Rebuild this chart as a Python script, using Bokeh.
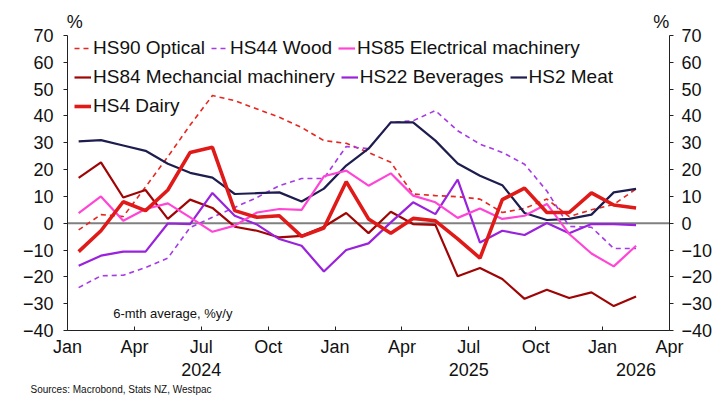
from bokeh.plotting import figure
from bokeh.models import (Range1d, LinearAxis, FixedTicker, Legend, LegendItem,
                          Span, Label, Title, ColumnDataSource)
from bokeh.embed import file_html
from bokeh.resources import INLINE

# ---------------- data ----------------
months = ["2024-01", "2024-02", "2024-03", "2024-04", "2024-05", "2024-06",
          "2024-07", "2024-08", "2024-09", "2024-10", "2024-11", "2024-12",
          "2025-01", "2025-02", "2025-03", "2025-04", "2025-05", "2025-06",
          "2025-07", "2025-08", "2025-09", "2025-10", "2025-11", "2025-12",
          "2026-01", "2026-02"]

hs90_optical = [-2.5, 3.2, 2.5, 13.5, 24.8, 36.6, 47.6, 45.7, 42.6, 39.5, 35.7, 30.8, 29.8,
                26.4, 22.7, 10.9, 10.3, 9.9, 9.0, 4.0, 5.5, 9.0, 2.5, 5.0, 7.0, 12.8]
hs44_wood = [-24.0, -19.6, -19.4, -16.5, -13.0, -1.6, 2.2, 5.9, 9.6, 14.0, 16.7, 16.7, 28.6,
             27.8, 37.6, 38.2, 42.0, 34.5, 29.5, 26.4, 22.0, 12.0, -1.2, -1.5, -9.4, -9.4]
hs85_electrical = [3.8, 10.0, 0.9, 5.3, 7.4, 2.2, -3.2, -0.9, 4.0, 5.3, 5.0, 17.5, 19.6,
                   14.0, 18.6, 10.3, 7.8, 2.0, 5.5, 1.6, 2.8, 7.2, -4.0, -11.3, -16.1, -8.4]
hs84_mechanical = [16.9, 22.7, 9.6, 12.4, 1.6, 8.8, 5.7, -1.3, -2.8, -5.3, -4.7, -1.3, 3.8,
                   -3.7, 4.3, -0.3, -0.6, -19.8, -16.7, -20.8, -28.2, -24.8, -27.9, -25.8, -30.9, -27.3]
hs22_beverages = [-15.9, -12.1, -10.6, -10.6, -0.1, -0.3, 11.3, 2.8, -0.5, -5.9, -8.4, -18.0, -10.0,
                  -7.5, 0.3, 7.8, 3.4, 16.3, -7.2, -2.8, -4.4, 0.1, -3.7, -0.3, -0.3, -0.7]
hs2_meat = [30.5, 31.0, 29.0, 27.0, 22.2, 18.8, 17.0, 10.9, 11.2, 11.5, 8.1, 12.9, 21.5,
            27.8, 37.6, 37.6, 30.8, 22.3, 17.7, 14.2, 3.8, 1.2, 1.6, 3.2, 11.5, 12.8]
hs4_dairy = [-10.6, -2.8, 8.0, 4.7, 12.4, 26.4, 28.3, 4.7, 2.2, 2.8, -4.9, -1.8, 15.5,
             1.6, -3.7, 1.8, 0.9, -5.8, -13.0, 8.8, 13.1, 4.0, 4.0, 11.3, 6.8, 5.7]

x_ticks = [0, 3, 6, 9, 12, 15, 18, 21, 24, 27]
x_tick_labels = ["Jan", "Apr", "Jul", "Oct", "Jan", "Apr", "Jul", "Oct", "Jan", "Apr"]
year_ticks = [6, 18, 25.5]
year_labels = ["2024", "2025", "2026"]
y_ticks = [-40, -30, -20, -10, 0, 10, 20, 30, 40, 50, 60, 70]
unit_ticks = [0.33, 26.63]
unit_labels = ["%", "%"]

# month index (months since Jan 2024), plotted mid-month
x_pos = [(int(m[:4]) - 2024) * 12 + int(m[5:]) - 1 + 0.5 for m in months]

FONT = "Liberation Sans"

src = ColumnDataSource(dict(x=x_pos, opt=hs90_optical, wood=hs44_wood, elec=hs85_electrical,
                            mech=hs84_mechanical, bev=hs22_beverages, meat=hs2_meat,
                            dairy=hs4_dairy))

p = figure(width=715, height=399, x_range=Range1d(0, 27), y_range=Range1d(-40, 70),
           output_backend="svg", toolbar_location=None, x_axis_type=None, y_axis_type=None,
           min_border_left=67, min_border_right=43, min_border_top=35, min_border_bottom=69)
p.outline_line_color = None
p.background_fill_color = "white"
p.border_fill_color = "white"

# zero line
p.add_layout(Span(location=0, dimension="width", line_color="#808080", line_width=2,
                  level="underlay"))

r_opt = p.line("x", "opt", source=src, line_color="#e8251e", line_width=1.6, line_dash="5 4")
r_wood = p.line("x", "wood", source=src, line_color="#a53ae6", line_width=1.6, line_dash="5 4")
r_meat = p.line("x", "meat", source=src, line_color="#1d1d4f", line_width=2.2)
r_mech = p.line("x", "mech", source=src, line_color="#a00505", line_width=2.2)
r_bev = p.line("x", "bev", source=src, line_color="#9a22dc", line_width=2.2)
r_elec = p.line("x", "elec", source=src, line_color="#ff45d6", line_width=2.2)
r_dairy = p.line("x", "dairy", source=src, line_color="#e01a18", line_width=3.6)

# axes
def style_axis(ax):
    ax.axis_line_color = "#222222"
    ax.axis_line_width = 1
    ax.major_tick_line_color = "#222222"
    ax.minor_tick_line_color = None
    ax.major_label_text_font = FONT
    ax.major_label_text_font_size = "18px"
    ax.major_label_text_color = "#111111"

yl = LinearAxis(ticker=FixedTicker(ticks=y_ticks))
style_axis(yl)
yl.major_tick_out = 4
yl.major_tick_in = 0
yl.major_label_standoff = 10
p.add_layout(yl, "left")

yr = LinearAxis(ticker=FixedTicker(ticks=y_ticks))
style_axis(yr)
yr.major_tick_out = 4
yr.major_tick_in = 0
yr.major_label_standoff = 8
p.add_layout(yr, "right")

xb = LinearAxis(ticker=FixedTicker(ticks=x_ticks),
                major_label_overrides={t: l for t, l in zip(x_ticks, x_tick_labels)})
style_axis(xb)
xb.major_tick_out = 0
xb.major_tick_in = 4
xb.major_label_standoff = 6
p.add_layout(xb, "below")

xy = LinearAxis(ticker=FixedTicker(ticks=year_ticks),
                major_label_overrides={t: l for t, l in zip(year_ticks, year_labels)})
style_axis(xy)
xy.axis_line_color = None
xy.major_tick_line_color = None
xy.major_tick_out = 0
xy.major_tick_in = 0
xy.major_label_standoff = 3
p.add_layout(xy, "below")

# unit labels above both y axes
xu = LinearAxis(ticker=FixedTicker(ticks=unit_ticks),
                major_label_overrides={t: l for t, l in zip(unit_ticks, unit_labels)})
style_axis(xu)
xu.axis_line_color = None
xu.major_tick_line_color = None
xu.major_tick_out = 0
xu.major_tick_in = 0
xu.major_label_standoff = 4
p.add_layout(xu, "above")

# source note
src_note = Title(text="Sources: Macrobond, Stats NZ, Westpac", align="left", offset=-37,
                 text_font=FONT, text_font_size="10px", text_font_style="normal",
                 text_color="#111111", standoff=7)
p.add_layout(src_note, "below")

# legends (three flowing rows)
rows = [
    ([("HS90 Optical", r_opt), ("HS44 Wood", r_wood), ("HS85 Electrical machinery", r_elec)], 271),
    ([("HS84 Mechancial machinery", r_mech), ("HS22 Beverages", r_bev), ("HS2 Meat", r_meat)], 242),
    ([("HS4 Dairy", r_dairy)], 213),
]
for items, vy in rows:
    leg = Legend(items=[LegendItem(label=lab, renderers=[r]) for lab, r in items],
                 location=(7, vy), orientation="horizontal")
    leg.background_fill_alpha = 0
    leg.border_line_color = None
    leg.padding = 0
    leg.margin = 0
    leg.spacing = 6
    leg.glyph_width = 17
    leg.glyph_height = 20
    leg.label_height = 20
    leg.label_standoff = 2
    leg.label_text_font = FONT
    leg.label_text_font_size = "19px"
    leg.label_text_color = "#111111"
    p.add_layout(leg)

p.add_layout(Label(x=2.05, y=-33.7, text="6-mth average, %y/y", text_align="left",
                   text_baseline="middle", text_font=FONT, text_font_size="13px",
                   text_color="#111111"))

open("out.html", "w").write(file_html(p, INLINE))
